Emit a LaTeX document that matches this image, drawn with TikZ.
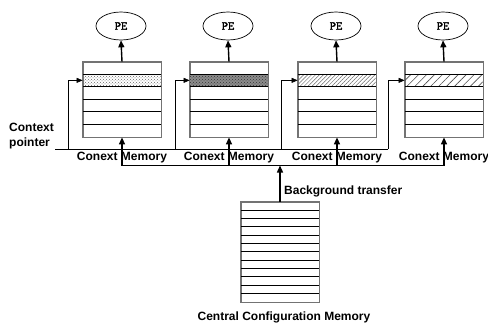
\documentclass[tikz,border=0pt]{standalone}
\usepackage{fontspec}
\setmainfont{Liberation Sans}
\newfontfamily\pefont[FakeBold=2.5]{Latin Modern Mono}
\usetikzlibrary{calc}
\usetikzlibrary{arrows.meta}
\usetikzlibrary{shapes.geometric}
\usetikzlibrary{patterns,patterns.meta}

\tikzset{
  membox/.style={draw=black!55,line width=.8pt,minimum width=78pt,minimum height=75pt,inner sep=0pt},
  cfgbox/.style={draw=black!55,line width=.8pt,minimum width=78pt,minimum height=100pt,inner sep=0pt},
  pe/.style={draw,ellipse,line width=.7pt,minimum width=50pt,minimum height=28pt,inner sep=0pt,font=\pefont\fontsize{12}{12}\selectfont},
  lbl/.style={font=\bfseries\fontsize{12}{14.5}\selectfont,inner sep=0pt},
  row/.style={black,line width=.8pt},
  arr/.style={line width=1.4pt,-{Triangle[length=7pt,width=6pt]}},
  ptr/.style={line width=.7pt,-{Triangle[length=6pt,width=5pt]}},
}

\begin{document}
\begin{tikzpicture}[x=1pt,y=-1pt]

\useasboundingbox (0,0) rectangle (488,327);

% context memories
\node[membox] (m1) at (122,99.5) {};
\node[membox] (m2) at (229,99.5) {};
\node[membox] (m3) at (337,99.5) {};
\node[membox] (m4) at (444,99.5) {};

% active context (second row)
\fill[pattern=crosshatch dots,pattern color=black!60] ($(m1.north west)+(0,12.5)$) rectangle ++(78,12.5);
\fill[black!45] ($(m2.north west)+(0,12.5)$) rectangle ++(78,12.5);
\fill[pattern=crosshatch dots,pattern color=black!80] ($(m2.north west)+(0,12.5)$) rectangle ++(78,12.5);
\fill[pattern={Lines[angle=45,distance=2.8pt,line width=.5pt]},pattern color=black!60] ($(m3.north west)+(0,12.5)$) rectangle ++(78,12.5);
\fill[pattern={Lines[angle=45,distance=5.6pt,line width=.6pt]},pattern color=black!70] ($(m4.north west)+(0,12.5)$) rectangle ++(78,12.5);

\foreach \m in {m1,m2,m3,m4}{
  \foreach \k in {1,...,5}
    \draw[row] ($(\m.north west)+(0,12.5*\k)$) -- ++(78,0);
  \draw[draw=black!55,line width=.8pt] (\m.north west) rectangle (\m.south east);
}

% processing elements
\node[pe] (p1) at (121,26) {PE};
\node[pe] (p2) at (228,26) {PE};
\node[pe] (p3) at (336,26) {PE};
\node[pe] (p4) at (443,26) {PE};

\draw[arr] (m1.north) -- (p1.south);
\draw[arr] (m2.north) -- (p2.south);
\draw[arr] (m3.north) -- (p3.south);
\draw[arr] (m4.north) -- (p4.south);

% context pointer
\coordinate (cp) at (55,149);
\coordinate (t1) at (68,149);
\coordinate (t2) at (175,149);
\coordinate (t3) at (281,149);
\coordinate (t4) at (388,149);

\coordinate (r1) at ($(m1.north west)+(0,18.75)$);
\coordinate (r2) at ($(m2.north west)+(0,18.75)$);
\coordinate (r3) at ($(m3.north west)+(0,18.75)$);
\coordinate (r4) at ($(m4.north west)+(0,18.75)$);

\node[lbl,align=left,anchor=west] (ctx) at (9,136) {Context\\pointer};

\draw[line width=.7pt] (cp) -- (t4);
\draw[ptr] (t1) |- (r1);
\draw[ptr] (t2) |- (r2);
\draw[ptr] (t3) |- (r3);
\draw[ptr] (t4) |- (r4);

% labels
\node[lbl] (c1) at (122,158) {Conext Memory};
\node[lbl] (c2) at (229,158) {Conext Memory};
\node[lbl] (c3) at (337,158) {Conext Memory};
\node[lbl] (c4) at (444,158) {Conext Memory};

% background bus
\coordinate (b1) at (122,165.5);
\coordinate (b2) at (229,165.5);
\coordinate (b3) at (337,165.5);
\coordinate (b4) at (444,165.5);

\draw[line width=1.4pt] (b1) -- (b4);
\draw[arr] (b1) -- (m1.south);
\draw[arr] (b2) -- (m2.south);
\draw[arr] (b3) -- (m3.south);
\draw[arr] (b4) -- (m4.south);

% central configuration memory
\node[cfgbox] (cm) at (280,252) {};
\foreach \k in {1,...,11}
  \draw[row] ($(cm.north west)+(0,100/12*\k)$) -- ++(78,0);
\draw[draw=black!55,line width=.8pt] (cm.north west) rectangle (cm.south east);

\draw[arr] (cm.north) -- (cm.north |- b1);
\node[lbl,anchor=west] (bt) at (284,191) {Background transfer};
\node[lbl] (ccm) at (284,317) {Central Configuration Memory};

\end{tikzpicture}
\end{document}
